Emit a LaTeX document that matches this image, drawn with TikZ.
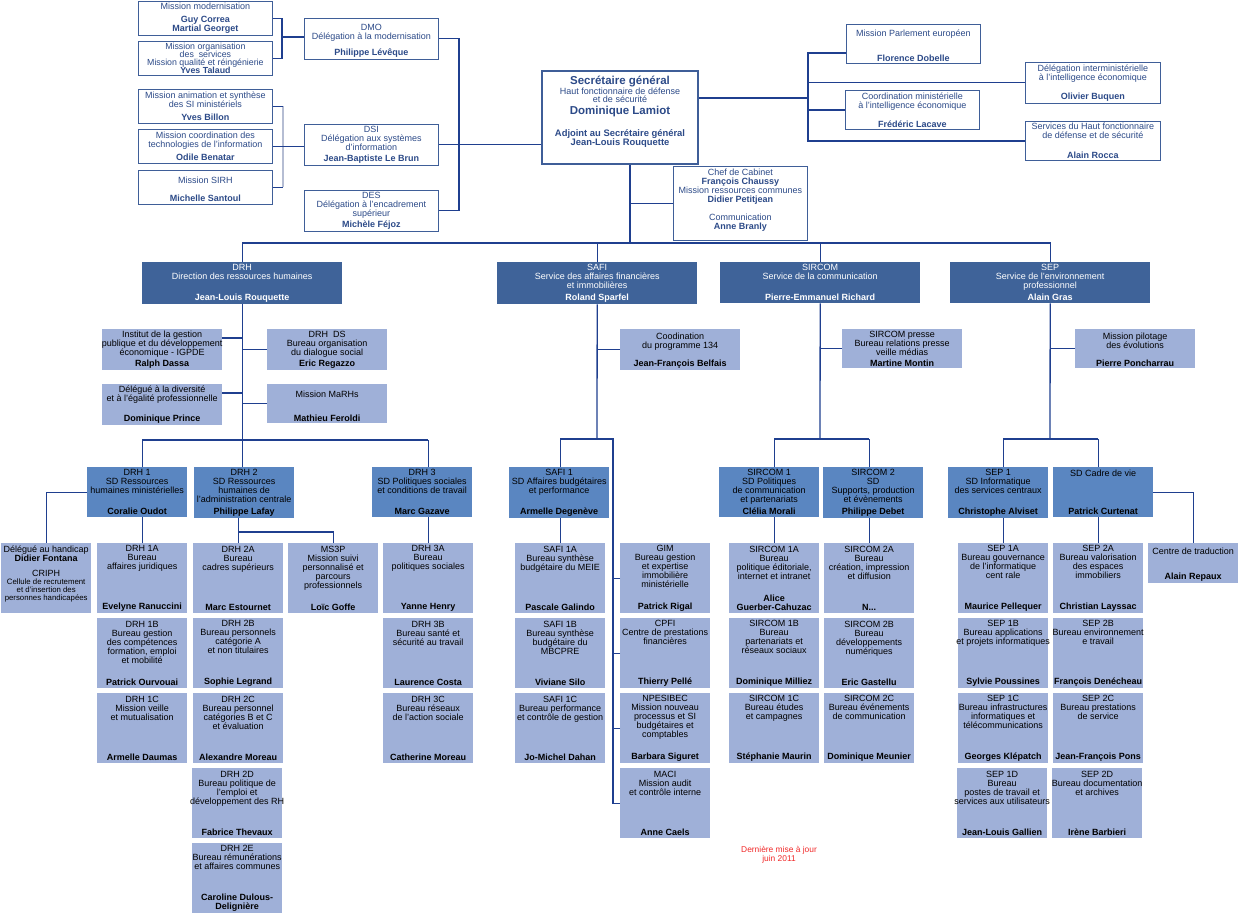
\documentclass[tikz,border=0pt]{standalone}
\usepackage{fontspec}
\setmainfont{Liberation Sans}
\usetikzlibrary{positioning}

\definecolor{navyline}{HTML}{1F3F8F}
\definecolor{topframe}{HTML}{3F5E98}
\definecolor{toptext}{HTML}{2C4A88}
\definecolor{headblue}{HTML}{3F6399}
\definecolor{subblue}{HTML}{5A86C1}
\definecolor{leafblue}{HTML}{9FB0D8}
\definecolor{railgray}{HTML}{B5BDD3}
\definecolor{stampred}{HTML}{F02828}

% title on top, bold name pushed to the bottom
\newcommand{\card}[4]{\parbox[c][#2][s]{#1}{\centering #3\par\vfill{\bfseries #4\par}}}
\newcommand{\fitline}[1]{\makebox[\linewidth]{#1}}

\begin{document}
\begin{tikzpicture}[x=1pt, y=-1pt,
    orgbox/.style={anchor=north west, inner xsep=0pt, inner ysep=2pt, font=\fontsize{9}{9}\selectfont},
    topbox/.style={orgbox, draw=topframe, line width=0.8pt, fill=white, text=toptext, minimum width=134pt},
    headbox/.style={orgbox, fill=headblue, text=white, minimum width=200pt, minimum height=41pt},
    subbox/.style={orgbox, fill=subblue, minimum width=100pt, minimum height=50pt},
    leafbox/.style={orgbox, fill=leafblue, minimum width=90pt, minimum height=70pt},
    missionbox/.style={orgbox, fill=leafblue, minimum width=120pt, minimum height=39pt},
    link/.style={draw=navyline, line width=1.3pt},
    rail/.style={draw=railgray, line width=2.2pt}
  ]
  \useasboundingbox (0,0) rectangle (1238,913);

  % secretariat
  \node[orgbox, draw=topframe, line width=2pt, fill=white, text=toptext, minimum width=156pt, minimum height=93pt] (sg) at (541,70)
    {\parbox[c][87pt][t]{152pt}{\centering\vspace*{2pt}
      {\fontsize{11.5}{11}\selectfont\bfseries Secrétaire général\par}
      Haut fonctionnaire de défense\\[-1pt]et de sécurité\par
      {\fontsize{11.5}{12}\selectfont\bfseries Dominique Lamiot\par}
      \vspace{12pt}
      {\fontsize{9.4}{9}\selectfont\bfseries Adjoint au Secrétaire général\\Jean-Louis Rouquette\par}}};
  \node[topbox, minimum height=74pt] (cab) at (673,166) {\card{132pt}{68pt}{Chef de Cabinet\\\textbf{François Chaussy}\\Mission ressources communes\\\textbf{Didier Petitjean}\\[9pt]Communication\\\textbf{Anne Branly}}{}};

  % delegations (left)
  \node[topbox, minimum height=33pt] (mod) at (138,1) {\card{132pt}{28pt}{Mission modernisation}{Guy Correa\\Martial Georget}};
  \node[topbox, minimum height=34pt, inner ysep=1pt, font=\fontsize{8.8}{7.8}\selectfont] (org) at (138,41) {\card{132pt}{30pt}{\lineskiplimit=-4pt\relax Mission organisation\\des\ \ services\\Mission qualité et réingénierie}{Yves Talaud}};
  \node[topbox, minimum height=34pt] (anim) at (138,89) {\card{132pt}{29pt}{Mission animation et synthèse\\des SI ministériels}{Yves Billon}};
  \node[topbox, minimum height=34pt] (techno) at (138,129) {\card{132pt}{29pt}{Mission coordination des\\technologies de l'information}{Odile Benatar}};
  \node[topbox, minimum height=34pt] (sirh) at (138,170) {\card{132pt}{29pt}{\vspace*{4pt}Mission SIRH}{Michelle Santoul}};
  \node[topbox, minimum height=39pt] (dmo) at (304,18) {\card{132pt}{35pt}{\vspace*{4pt}DMO\\Délégation à la modernisation}{Philippe Lévêque}};
  \node[topbox, minimum height=39pt] (dsi) at (304,124) {\card{132pt}{35pt}{DSI\\Délégation aux systèmes\\d'information}{Jean-Baptiste Le Brun}};
  \node[topbox, minimum height=39pt] (des) at (304,190) {\card{132pt}{35pt}{DES\\Délégation à l'encadrement\\supérieur}{Michèle Féjoz}};

  % missions (right)
  \node[topbox, minimum height=39pt] (pe) at (846,24) {\card{132pt}{35pt}{\vspace*{3pt}Mission Parlement européen}{Florence Dobelle}};
  \node[topbox, minimum width=135pt, minimum height=39pt] (dii) at (1025,62) {\card{132pt}{35pt}{Délégation interministérielle\\à l'intelligence économique}{Olivier Buquen}};
  \node[topbox, minimum height=39pt] (cmi) at (845,90) {\card{132pt}{35pt}{Coordination ministérielle\\à l'intelligence économique}{Frédéric Lacave}};
  \node[topbox, minimum width=135pt, minimum height=39pt] (hfds) at (1025,121) {\card{132pt}{35pt}{Services du Haut fonctionnaire\\de défense et de sécurité}{Alain Rocca}};

  % directions
  \node[headbox] (drh) at (142,262) {\card{200pt}{36pt}{DRH\\Direction des ressources humaines}{Jean-Louis Rouquette}};
  \node[headbox] (safi) at (497,262) {\card{200pt}{36pt}{SAFI\\Service des affaires financières\\et immobilières}{Roland Sparfel}};
  \node[headbox] (sircom) at (720,262) {\card{200pt}{36pt}{SIRCOM\\Service de la communication}{Pierre-Emmanuel Richard}};
  \node[headbox] (sep) at (950,262) {\card{200pt}{36pt}{SEP\\Service de l'environnement\\professionnel}{Alain Gras}};

  \node[missionbox] (igpde) at (102,329) {\card{120pt}{35pt}{Institut de la gestion\\\fitline{publique et du développement}\\économique - IGPDE}{Ralph Dassa}};
  \node[missionbox] (dialogue) at (267,329) {\card{120pt}{35pt}{DRH\ \ DS\\Bureau organisation\\du dialogue social}{Eric Regazzo}};
  \node[missionbox] (diversite) at (102,384) {\card{120pt}{35pt}{Délégué à la diversité\\et à l'égalité professionnelle}{Dominique Prince}};
  \node[missionbox] (marhs) at (267,384) {\card{120pt}{35pt}{\vspace*{5pt}Mission MaRHs}{Mathieu Feroldi}};
  \node[missionbox] (prog) at (620,329) {\card{120pt}{35pt}{\vspace*{2pt}Coodination\\du programme 134}{Jean-François Belfais}};
  \node[missionbox] (presse) at (842,329) {\card{120pt}{35pt}{SIRCOM presse\\Bureau relations presse\\veille médias}{Martine Montin}};
  \node[missionbox] (pilotage) at (1075,329) {\card{120pt}{35pt}{\vspace*{2pt}Mission pilotage\\des évolutions}{Pierre Poncharrau}};

  % sous-directions
  \node[subbox] (drh1) at (87,467) {\card{100pt}{45pt}{DRH 1\\SD Ressources\\humaines ministérielles}{Coralie Oudot}};
  \node[subbox] (drh2) at (194,467) {\card{100pt}{45pt}{DRH 2\\SD Ressources\\humaines de\\l'administration centrale}{Philippe Lafay}};
  \node[subbox] (drh3) at (372,467) {\card{100pt}{45pt}{DRH 3\\SD Politiques sociales\\et conditions de travail}{Marc Gazave}};
  \node[subbox] (safi1) at (509,467) {\card{100pt}{45pt}{SAFI 1\\SD Affaires budgétaires\\et performance}{Armelle Degenève}};
  \node[subbox] (sircom1) at (719,467) {\card{100pt}{45pt}{SIRCOM 1\\SD Politiques\\de communication\\et partenariats}{Clélia Morali}};
  \node[subbox] (sircom2) at (823,467) {\card{100pt}{45pt}{SIRCOM 2\\SD\\Supports, production\\et évènements}{Philippe Debet}};
  \node[subbox] (sep1) at (948,467) {\card{100pt}{45pt}{SEP 1\\SD Informatique\\des services centraux}{Christophe Alviset}};
  \node[subbox] (cadre) at (1053,467) {\card{100pt}{45pt}{SD Cadre de vie}{Patrick Curtenat}};

  % bureaux DRH
  \node[leafbox] (handicap) at (1,543) {\card{90pt}{64pt}{Délégué au handicap\\\textbf{Didier Fontana}\\[6pt]CRIPH\par{\fontsize{7.8}{8}\selectfont Cellule de recrutement\\et d'insertion des\\personnes handicapées\par}}{}};
  \node[leafbox] (drh1a) at (97,543) {\card{90pt}{64pt}{DRH 1A\\Bureau\\affaires juridiques}{Evelyne Ranuccini}};
  \node[leafbox] (drh1b) at (97,618) {\card{90pt}{64pt}{DRH 1B\\Bureau gestion\\des compétences\\formation, emploi\\et mobilité}{Patrick Ourvouai}};
  \node[leafbox] (drh1c) at (97,693) {\card{90pt}{64pt}{DRH 1C\\Mission veille\\et mutualisation}{Armelle Daumas}};
  \node[leafbox] (drh2a) at (193,543) {\card{90pt}{64pt}{DRH 2A\\Bureau\\cadres supérieurs}{Marc Estournet}};
  \node[leafbox] (drh2b) at (193,618) {\card{90pt}{64pt}{DRH 2B\\Bureau personnels\\catégorie A\\et non titulaires}{Sophie Legrand}};
  \node[leafbox] (drh2c) at (193,693) {\card{90pt}{64pt}{DRH 2C\\Bureau personnel\\catégories B et C\\et évaluation}{Alexandre Moreau}};
  \node[leafbox] (drh2d) at (192,768) {\card{90pt}{64pt}{DRH 2D\\Bureau politique de\\l'emploi et\\\fitline{développement des RH}}{Fabrice Thevaux}};
  \node[leafbox] (drh2e) at (192,843) {\card{90pt}{64pt}{DRH 2E\\\fitline{Bureau rémunérations}\\et affaires communes}{Caroline Dulous-\\Delignière}};
  \node[leafbox] (ms3p) at (288,543) {\card{90pt}{64pt}{MS3P\\Mission suivi\\personnalisé et\\parcours\\professionnels}{Loïc Goffe}};
  \node[leafbox] (drh3a) at (383,543) {\card{90pt}{64pt}{DRH 3A\\Bureau\\politiques sociales}{Yanne Henry}};
  \node[leafbox] (drh3b) at (383,618) {\card{90pt}{64pt}{DRH 3B\\Bureau santé et\\sécurité au travail}{Laurence Costa}};
  \node[leafbox] (drh3c) at (383,693) {\card{90pt}{64pt}{DRH 3C\\Bureau réseaux\\de l'action sociale}{Catherine Moreau}};

  % bureaux SAFI
  \node[leafbox] (safi1a) at (515,543) {\card{90pt}{64pt}{SAFI 1A\\Bureau synthèse\\budgétaire du MEIE}{Pascale Galindo}};
  \node[leafbox] (safi1b) at (515,618) {\card{90pt}{64pt}{SAFI 1B\\Bureau synthèse\\budgétaire du\\MBCPRE}{Viviane Silo}};
  \node[leafbox] (safi1c) at (515,693) {\card{90pt}{64pt}{SAFI 1C\\Bureau performance\\et contrôle de gestion}{Jo-Michel Dahan}};
  \node[leafbox] (gim) at (620,543) {\card{90pt}{64pt}{GIM\\Bureau gestion\\et expertise\\immobilière\\ministérielle}{Patrick Rigal}};
  \node[leafbox] (cpfi) at (620,618) {\card{90pt}{64pt}{CPFI\\Centre de prestations\\financières}{Thierry Pellé}};
  \node[leafbox] (npesibec) at (620,693) {\card{90pt}{64pt}{NPESIBEC\\Mission nouveau\\processus et SI\\budgétaires et\\comptables}{Barbara Siguret}};
  \node[leafbox] (maci) at (620,768) {\card{90pt}{64pt}{MACI\\Mission audit\\et contrôle interne}{Anne Caels}};

  % bureaux SIRCOM
  \node[leafbox] (sircom1a) at (729,543) {\card{90pt}{64pt}{SIRCOM 1A\\Bureau\\politique éditoriale,\\internet et intranet}{Alice\\Guerber-Cahuzac}};
  \node[leafbox] (sircom1b) at (729,618) {\card{90pt}{64pt}{SIRCOM 1B\\Bureau\\partenariats et\\réseaux sociaux}{Dominique Milliez}};
  \node[leafbox] (sircom1c) at (729,693) {\card{90pt}{64pt}{SIRCOM 1C\\Bureau études\\et campagnes}{Stéphanie Maurin}};
  \node[leafbox] (sircom2a) at (824,543) {\card{90pt}{64pt}{SIRCOM 2A\\Bureau\\création, impression\\et diffusion}{N...}};
  \node[leafbox] (sircom2b) at (824,618) {\card{90pt}{64pt}{SIRCOM 2B\\Bureau\\développements\\numériques}{Eric Gastellu}};
  \node[leafbox] (sircom2c) at (824,693) {\card{90pt}{64pt}{SIRCOM 2C\\Bureau événements\\de communication}{Dominique Meunier}};

  % bureaux SEP
  \node[leafbox] (sep1a) at (958,543) {\card{90pt}{64pt}{SEP 1A\\Bureau gouvernance\\de l'informatique\\cent rale}{Maurice Pellequer}};
  \node[leafbox] (sep1b) at (958,618) {\card{90pt}{64pt}{SEP 1B\\Bureau applications\\\fitline{et projets informatiques}}{Sylvie Poussines}};
  \node[leafbox] (sep1c) at (958,693) {\card{90pt}{64pt}{SEP 1C\\Bureau infrastructures\\informatiques et\\télécommunications}{Georges Klépatch}};
  \node[leafbox] (sep1d) at (957,768) {\card{90pt}{64pt}{SEP 1D\\Bureau\\postes de travail et\\\fitline{services aux utilisateurs}}{Jean-Louis Gallien}};
  \node[leafbox] (sep2a) at (1053,543) {\card{90pt}{64pt}{SEP 2A\\Bureau valorisation\\des espaces\\immobiliers}{Christian Layssac}};
  \node[leafbox] (sep2b) at (1053,618) {\card{90pt}{64pt}{SEP 2B\\\fitline{Bureau environnement}\\e travail}{François Denécheau}};
  \node[leafbox] (sep2c) at (1053,693) {\card{90pt}{64pt}{SEP 2C\\Bureau prestations\\de service}{Jean-François Pons}};
  \node[leafbox] (sep2d) at (1052,768) {\card{90pt}{64pt}{SEP 2D\\\fitline{Bureau documentation}\\et archives}{Irène Barbieri}};
  \node[leafbox, minimum height=40pt] (trad) at (1148,543) {\card{90pt}{34pt}{\vspace*{3pt}Centre de traduction}{Alain Repaux}};

  \node[text=stampred, font=\fontsize{8.4}{9}\selectfont, align=center] (stamp) at (779,855) {Dernière mise à jour\\juin 2011};

  % junction points
  \coordinate (modjoin) at (282,37);
  \coordinate (sijoin) at (283,149);
  \coordinate (delrail) at (459,0);
  \coordinate (sgrail) at (808,53);
  \coordinate (hub) at (630,243);
  \coordinate (drhbus) at (242,440);
  \coordinate (safibus) at (597,439);
  \coordinate (safirail) at (613,439);
  \coordinate (sircombus) at (820,439);
  \coordinate (sepbus) at (1050,439);
  \path (sg.north east) ++(0,28) coordinate (sgout);

  % top links
  \draw[link] (mod.east) -| (modjoin) |- (org.east);
  \draw[link] (modjoin) -- (modjoin -| dmo.west);
  \draw[rail] (anim.east -| sijoin) -- (sirh.east -| sijoin);
  \draw[link] (anim.east) -- (anim.east -| sijoin);
  \draw[link] (sirh.east) -- (sirh.east -| sijoin);
  \draw[link] (techno.east) -- (techno.east -| dsi.west);
  \draw[link] (dmo.east) -| (delrail |- des.east) -- (des.east);
  \draw[link] (dsi.east) -- (dsi.east -| sg.west);
  \draw[link] (sgout) -- (sgout -| sgrail);
  \draw[link] (pe.west |- sgrail) -- (sgrail) |- (hfds.west);
  \draw[link] (dii.west) -- (dii.west -| sgrail);
  \draw[link] (cmi.west) -- (cmi.west -| sgrail);
  \draw[link] (sg.south -| hub) -- (hub);
  \draw[link] (cab.west) -- (cab.west -| hub);
  \draw[link] (drh.north) |- (hub) -| (sep.north);
  \draw[link] (safi.north) -- (safi.north |- hub);
  \draw[link] (sircom.north) -- (sircom.north |- hub);

  % DRH links
  \draw[link] (drh.south) -- (drh.south |- drh2.north);
  \draw[link] (igpde.11) -- (igpde.11 -| drh.south);
  \draw[link] (dialogue.west) -- (dialogue.west -| drh.south);
  \draw[link] (diversite.11) -- (diversite.11 -| drh.south);
  \draw[link] (marhs.west) -- (marhs.west -| drh.south);
  \draw[link] (drhbus -| drh1a.north) -- (drhbus -| drh3a.north);
  \draw[link] (drhbus -| drh1a.north) -- (drh1a.north |- drh1.north);
  \draw[link] (drhbus -| drh3a.north) -- (drh3a.north |- drh3.north);
  \draw[link] (drh1.west) -| (handicap.north);
  \draw[link] (drh1a.north) -- (drh1a.north |- drh1.south);
  \draw[link] (drh2a.north) -- (drh2a.north |- drh2.south);
  \draw[link] (drh2a.north) ++(0,-11) -| (ms3p.north);
  \draw[link] (drh3a.north) -- (drh3a.north |- drh3.south);

  % SAFI links
  \draw[link] (safi.south) -- (safibus);
  \draw[link] (prog.west) -- (prog.west -| safibus);
  \draw[link] (safibus -| safi1a.north) -- (safirail) |- (maci.west);
  \draw[link] (safibus -| safi1a.north) -- (safi1a.north |- safi1.north);
  \draw[link] (safi1a.north) -- (safi1a.north |- safi1.south);
  \draw[link] (gim.west) -- (gim.west -| safirail);
  \draw[link] (cpfi.west) -- (cpfi.west -| safirail);
  \draw[link] (npesibec.west) -- (npesibec.west -| safirail);

  % SIRCOM links
  \draw[link] (sircom.south) -- (sircombus);
  \draw[link] (presse.west) -- (presse.west -| sircombus);
  \draw[link] (sircombus -| sircom1a.north) -- (sircombus -| sircom2a.north);
  \draw[link] (sircombus -| sircom1a.north) -- (sircom1a.north |- sircom1.north);
  \draw[link] (sircombus -| sircom2a.north) -- (sircom2a.north |- sircom2.north);
  \draw[link] (sircom1a.north) -- (sircom1a.north |- sircom1.south);
  \draw[link] (sircom2a.north) -- (sircom2a.north |- sircom2.south);

  % SEP links
  \draw[link] (sep.south) -- (sepbus);
  \draw[link] (pilotage.west) -- (pilotage.west -| sepbus);
  \draw[link] (sepbus -| sep1a.north) -- (sepbus -| sep2a.north);
  \draw[link] (sepbus -| sep1a.north) -- (sep1a.north |- sep1.north);
  \draw[link] (sepbus -| sep2a.north) -- (sep2a.north |- cadre.north);
  \draw[link] (sep1a.north) -- (sep1a.north |- sep1.south);
  \draw[link] (sep2a.north) -- (sep2a.north |- cadre.south);
  \draw[link] (cadre.east) -| (trad.north);
\end{tikzpicture}
\end{document}
